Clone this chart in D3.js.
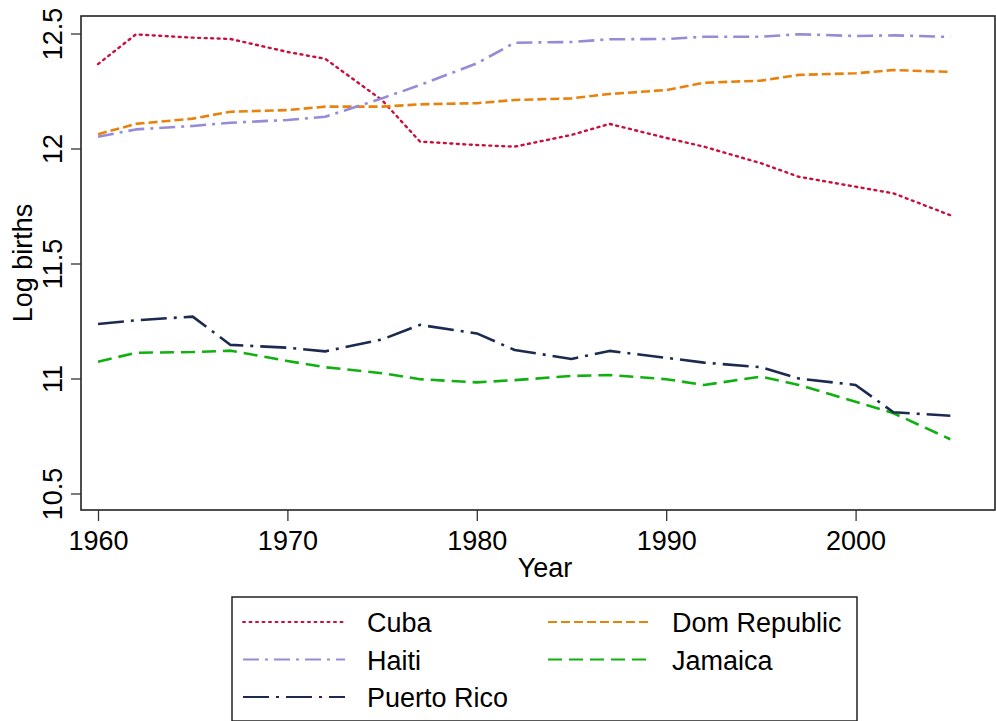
<!DOCTYPE html>
<html>
<head>
<meta charset="utf-8">
<script src="https://cdn.jsdelivr.net/npm/d3@7"></script>
<style>
  body { margin: 0; background: #fff; }
  svg { display: block; font-family: "Liberation Sans", Arial, sans-serif; }
</style>
</head>
<body>
<svg id="graph" width="996" height="721"></svg>
<script>
// annees des observations
const years = [1960, 1962, 1965, 1967, 1970, 1972, 1975, 1977, 1980, 1982, 1985, 1987, 1990, 1992, 1995, 1997, 2000, 2002, 2005];

// log des naissances
const cuba = [12.367, 12.496, 12.482, 12.476, 12.42, 12.39, 12.21, 12.03, 12.015, 12.008, 12.059, 12.107, 12.046, 12.008, 11.936, 11.877, 11.834, 11.805, 11.71];
const domRepublic = [12.062, 12.107, 12.13, 12.16, 12.167, 12.182, 12.182, 12.192, 12.197, 12.211, 12.218, 12.237, 12.254, 12.286, 12.295, 12.32, 12.327, 12.341, 12.333];
const haiti = [12.051, 12.083, 12.098, 12.112, 12.124, 12.138, 12.218, 12.276, 12.37, 12.46, 12.463, 12.475, 12.476, 12.486, 12.486, 12.497, 12.489, 12.492, 12.485];
const jamaica = [11.073, 11.112, 11.115, 11.121, 11.076, 11.049, 11.023, 10.997, 10.983, 10.993, 11.011, 11.015, 10.997, 10.972, 11.008, 10.972, 10.899, 10.849, 10.736];
const puertoRico = [11.237, 11.253, 11.269, 11.146, 11.134, 11.118, 11.17, 11.233, 11.196, 11.124, 11.085, 11.12, 11.09, 11.069, 11.049, 11.0, 10.972, 10.853, 10.838];

const xTicks = [1960, 1970, 1980, 1990, 2000];
const yTicks = [10.5, 11, 11.5, 12, 12.5];

const series = [
  { name: 'Cuba', values: cuba, color: '#c8103e', dash: '2,4.5', width: 2.4, cap: 'round' },
  { name: 'Dom Republic', values: domRepublic, color: '#e8820e', dash: '9,4', width: 2.6, cap: 'butt' },
  { name: 'Haiti', values: haiti, color: '#958bd6', dash: '16,6,3,6', width: 2.6, cap: 'butt' },
  { name: 'Jamaica', values: jamaica, color: '#10b010', dash: '14,7', width: 2.6, cap: 'butt' },
  { name: 'Puerto Rico', values: puertoRico, color: '#1b2a4e', dash: '26,7,3,7', width: 2.6, cap: 'butt' }
];

const svg = d3.select('#graph');

// zone du graphique
const plotLeft = 81, plotRight = 995, plotTop = 16, plotBottom = 510;

const xScale = d3.scaleLinear()
    .domain([1960, 2000])
    .range([98, 855.6]);

const yScale = d3.scaleLinear()
    .domain([10.5, 12.5])
    .range([493.5, 33.5]);

svg.append('rect')
    .attr('x', plotLeft)
    .attr('y', plotTop)
    .attr('width', plotRight - plotLeft)
    .attr('height', plotBottom - plotTop)
    .attr('fill', 'none')
    .attr('stroke', '#222')
    .attr('stroke-width', 1.6);

// axe Y
const yAxis = svg.append('g')
    .attr('transform', `translate(${plotLeft}, 0)`)
    .call(d3.axisLeft(yScale).tickValues(yTicks).tickSize(10).tickSizeOuter(0).tickFormat(d3.format('')));
yAxis.select('.domain').remove();
yAxis.selectAll('line').attr('stroke', '#333').attr('stroke-width', 1.3);
yAxis.selectAll('.tick text')
    .attr('font-size', '27px')
    .attr('fill', '#000')
    .attr('x', 0)
    .attr('y', 0)
    .attr('dy', 0)
    .attr('text-anchor', 'middle')
    .attr('transform', 'translate(-19, 0) rotate(-90)');

// axe X
const xAxis = svg.append('g')
    .attr('transform', `translate(0, ${plotBottom})`)
    .call(d3.axisBottom(xScale).tickValues(xTicks).tickSize(11).tickSizeOuter(0).tickFormat(d3.format('d')));
xAxis.select('.domain').remove();
xAxis.selectAll('line').attr('stroke', '#333').attr('stroke-width', 1.3);
xAxis.selectAll('text')
    .attr('font-size', '27px')
    .attr('fill', '#000')
    .attr('y', 40)
    .attr('dy', 0);

// titres des axes
svg.append('text')
    .attr('x', 545)
    .attr('y', 577)
    .attr('text-anchor', 'middle')
    .attr('font-size', '27px')
    .text('Year');

svg.append('text')
    .attr('transform', 'translate(32, 263) rotate(-90)')
    .attr('text-anchor', 'middle')
    .attr('font-size', '27px')
    .text('Log births');

// courbes
const line = d3.line()
    .x((d, i) => xScale(years[i]))
    .y((d) => yScale(d));

series.forEach((s) => {
  svg.append('path')
      .datum(s.values)
      .attr('d', line)
      .attr('fill', 'none')
      .attr('stroke', s.color)
      .attr('stroke-width', s.width)
      .attr('stroke-dasharray', s.dash)
      .attr('stroke-linecap', s.cap)
      .attr('stroke-linejoin', 'round');
});

// legende
const legend = svg.append('g');
legend.append('rect')
    .attr('x', 232)
    .attr('y', 597)
    .attr('width', 625)
    .attr('height', 124)
    .attr('fill', '#fff')
    .attr('stroke', '#222')
    .attr('stroke-width', 1.5);

const legendPos = [
  { col: 0, row: 0 }, { col: 1, row: 0 },
  { col: 0, row: 1 }, { col: 1, row: 1 },
  { col: 0, row: 2 }
];

series.forEach((s, i) => {
  const p = legendPos[i];
  const x0 = 243 + p.col * 305;
  const y0 = 622 + p.row * 37.5;
  legend.append('line')
      .attr('x1', x0)
      .attr('x2', x0 + 102)
      .attr('y1', y0)
      .attr('y2', y0)
      .attr('stroke', s.color)
      .attr('stroke-width', s.width - 0.4)
      .attr('stroke-dasharray', s.dash)
      .attr('stroke-linecap', s.cap);
  legend.append('text')
      .attr('x', x0 + 124)
      .attr('y', y0 + 10)
      .attr('font-size', '27px')
      .text(s.name);
});
</script>
</body>
</html>
